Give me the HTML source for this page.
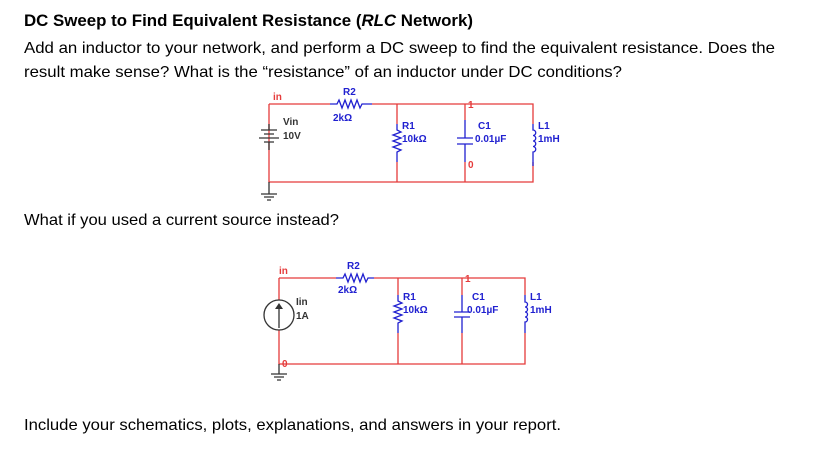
<!DOCTYPE html>
<html><head><meta charset="utf-8"><style>
html,body{margin:0;padding:0;background:#fff;}
svg{display:block;}
.t{font-family:"Liberation Sans",sans-serif;fill:#000;}
.b{font-family:"Liberation Sans",sans-serif;font-weight:bold;font-size:10px;}
</style></head><body>
<svg width="838" height="451" viewBox="0 0 838 451" xmlns="http://www.w3.org/2000/svg">
<text class="t" x="24" y="26" font-size="17" font-weight="bold" textLength="449" lengthAdjust="spacingAndGlyphs">DC Sweep to Find Equivalent Resistance (<tspan font-style="italic">RLC</tspan> Network)</text>
<text class="t" x="24" y="53" font-size="16" textLength="751" lengthAdjust="spacingAndGlyphs">Add an inductor to your network, and perform a DC sweep to find the equivalent resistance. Does the</text>
<text class="t" x="24" y="77" font-size="16" textLength="598" lengthAdjust="spacingAndGlyphs">result make sense?  What is the “resistance” of an inductor under DC conditions?</text>
<text class="t" x="24" y="225" font-size="16" textLength="315" lengthAdjust="spacingAndGlyphs">What if you used a current source instead?</text>
<text class="t" x="24" y="430" font-size="16" textLength="537" lengthAdjust="spacingAndGlyphs">Include your schematics, plots, explanations, and answers in your report.</text>

<!-- Circuit 1 -->
<g fill="none" stroke-width="1.3">
<path d="M269 104H330M372 104H533V124M533 162V182H269V104" stroke="#e53b3b"/>
<path d="M397 104V124M397 162V182M465 104V120M465 162V182" stroke="#e53b3b"/>
<path d="M330 104h7l2-4 3 8 3-8 3 8 3-8 3 8 3-8 3 8 2-4h10" stroke="#2020d0"/>
<path d="M397 124v6l4 2-8 3 8 3-8 3 8 3-8 3 8 3-4 2v10" stroke="#2020d0"/>
<path d="M465 120v18M465 144v18M457 138h16M457 144h16" stroke="#2020d0"/>
<path d="M533 124v6a2.7 2.7 0 0 1 0 5.5a2.7 2.7 0 0 1 0 5.5a2.7 2.7 0 0 1 0 5.5a2.7 2.7 0 0 1 0 5.5v14" stroke="#2020d0"/>
<path d="M269 124v6M261 130h16M264 134h10M259 138h20M264 142h10M269 142v8" stroke="#333"/>
<path d="M269 182v12M261 194h16M264 197h10M267 200h4" stroke="#333"/>
</g>
<text class="b" x="273" y="100" fill="#e53b3b" font-weight="normal">in</text>
<text class="b" x="343" y="95" fill="#2020d0">R2</text>
<text class="b" x="333" y="121" fill="#2020d0">2kΩ</text>
<text class="b" x="402" y="129" fill="#2020d0">R1</text>
<text class="b" x="402" y="142" fill="#2020d0">10kΩ</text>
<text class="b" x="478" y="129" fill="#2020d0">C1</text>
<text class="b" x="475" y="142" fill="#2020d0">0.01µF</text>
<text class="b" x="538" y="129" fill="#2020d0">L1</text>
<text class="b" x="538" y="142" fill="#2020d0">1mH</text>
<text class="b" x="283" y="125" fill="#333">Vin</text>
<text class="b" x="283" y="139" fill="#333">10V</text>
<text class="b" x="468" y="168" fill="#e53b3b" font-weight="normal">0</text>
<text class="b" x="468" y="108" fill="#e53b3b" font-weight="normal">1</text>

<!-- Circuit 2 -->
<g fill="none" stroke-width="1.3">
<path d="M279 278H336M374 278H525V295M525 333V364H279V330M279 300V278" stroke="#e53b3b"/>
<path d="M398 278V295M398 333V364M462 278V295M462 333V364" stroke="#e53b3b"/>
<path d="M336 278h7l2-4 3 8 3-8 3 8 3-8 3 8 3-8 3 8 2-4h6" stroke="#2020d0"/>
<path d="M398 295v6l4 2-8 3 8 3-8 3 8 3-8 3 8 3-4 2v10" stroke="#2020d0"/>
<path d="M462 295v17M462 317v16M454 312h16M454 317h16" stroke="#2020d0"/>
<path d="M525 295v7a2.5 2.5 0 0 1 0 5a2.5 2.5 0 0 1 0 5a2.5 2.5 0 0 1 0 5a2.5 2.5 0 0 1 0 5v11" stroke="#2020d0"/>
<circle cx="279" cy="315" r="15" stroke="#333"/>
<path d="M279 328v-22" stroke="#333"/>
<path d="M279 364v10M271 374h16M274 377h10M277 380h4" stroke="#333"/>
</g>
<path d="M275 309l4-6 4 6z" fill="#333"/>
<text class="b" x="279" y="274" fill="#e53b3b" font-weight="normal">in</text>
<text class="b" x="347" y="269" fill="#2020d0">R2</text>
<text class="b" x="338" y="293" fill="#2020d0">2kΩ</text>
<text class="b" x="403" y="300" fill="#2020d0">R1</text>
<text class="b" x="403" y="313" fill="#2020d0">10kΩ</text>
<text class="b" x="472" y="300" fill="#2020d0">C1</text>
<text class="b" x="467" y="313" fill="#2020d0">0.01µF</text>
<text class="b" x="530" y="300" fill="#2020d0">L1</text>
<text class="b" x="530" y="313" fill="#2020d0">1mH</text>
<text class="b" x="296" y="305" fill="#333">Iin</text>
<text class="b" x="296" y="319" fill="#333">1A</text>
<text class="b" x="282" y="367" fill="#e53b3b" font-weight="normal">0</text>
<text class="b" x="465" y="282" fill="#e53b3b" font-weight="normal">1</text>
</svg>
</body></html>
